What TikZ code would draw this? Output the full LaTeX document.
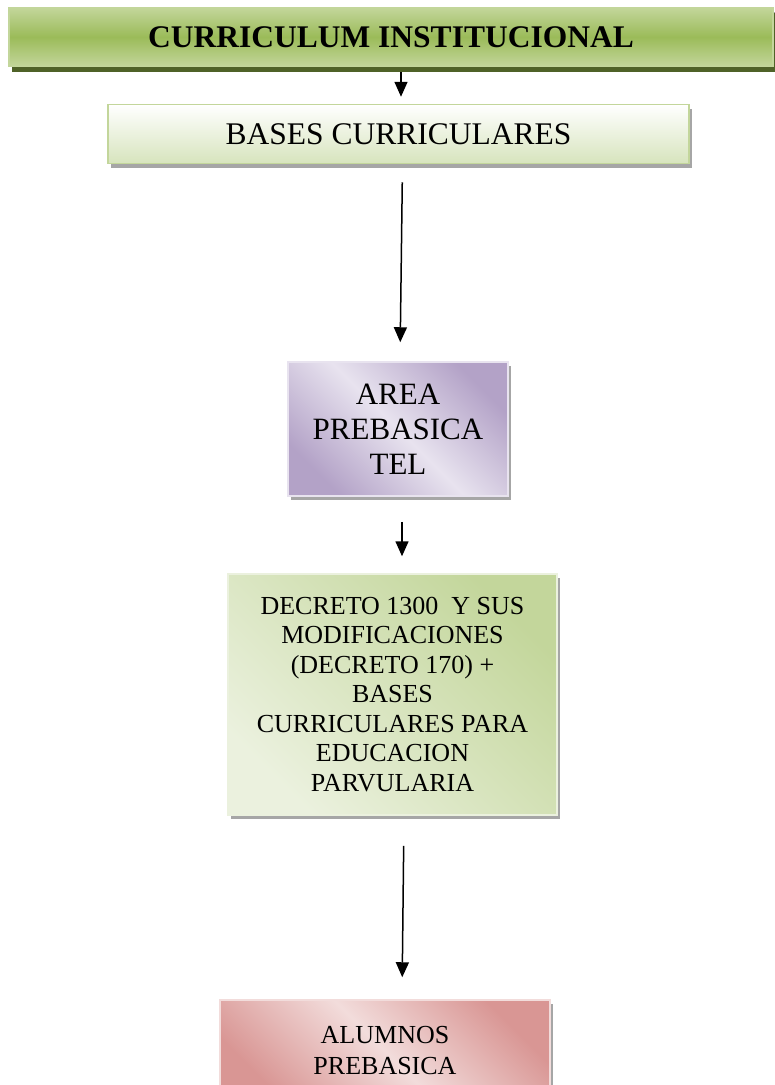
\documentclass[tikz,border=0pt]{standalone}
\usepackage{fontspec}
\setmainfont{Liberation Serif}
\usetikzlibrary{arrows.meta,shadows}
\definecolor{verdeos}{HTML}{4F6228}
\definecolor{verde}{HTML}{9BBB59}
\definecolor{verdecl}{HTML}{C3D69B}
\definecolor{verdepal}{HTML}{D7E4BD}
\definecolor{verdeblan}{HTML}{EBF1DE}
\definecolor{lila}{HTML}{B3A2C7}
\definecolor{lilacl}{HTML}{E8E3EF}
\definecolor{rosa}{HTML}{D99694}
\definecolor{rosacl}{HTML}{F2DCDB}
\begin{document}
\begin{tikzpicture}[x=1pt,y=-1pt,
    caja/.style={rectangle,inner sep=0pt,align=center,line width=1.5pt,
      drop shadow={shadow xshift=3pt,shadow yshift=-4pt,fill=black!35,opacity=1}},
    flecha/.style={line width=1.5pt,-{Triangle[length=15pt,width=13pt]}}]
  \useasboundingbox (0,0) rectangle (775,1085);
  \node[caja,minimum width=764pt,minimum height=59pt,draw=verdecl,
    top color=verdecl,bottom color=verdecl,middle color=verde,
    drop shadow={shadow xshift=3pt,shadow yshift=-5pt,fill=verdeos,opacity=1},
    font=\fontsize{31.5}{36}\selectfont\bfseries]
    (titulo) at (391,37) {CURRICULUM INSTITUCIONAL};
  \node[caja,minimum width=581pt,minimum height=59pt,draw=verdecl,
    top color=white,bottom color=verdepal,
    font=\fontsize{31.5}{36}\selectfont]
    (bases) at (398.5,134) {BASES CURRICULARES};
  \node[caja,minimum width=220pt,minimum height=134pt,draw=lilacl,
    top color=lila,bottom color=lila,middle color=lilacl,shading angle=-45,
    font=\fontsize{31}{35}\selectfont]
    (area) at (398,429) {AREA\\PREBASICA\\TEL};
  \node[caja,minimum width=329pt,minimum height=241pt,draw=verdeblan,
    top color=verdecl,bottom color=verdeblan,shading angle=-45,
    font=\fontsize{26}{29.5}\selectfont]
    (decreto) at (392.5,694.5) {DECRETO 1300 \ Y SUS\\MODIFICACIONES\\(DECRETO 170) +\\BASES\\CURRICULARES PARA\\EDUCACION\\PARVULARIA};
  \node[caja,minimum width=330pt,minimum height=102pt,draw=rosacl,
    top color=rosa,bottom color=rosa,middle color=rosacl,shading angle=-45,
    font=\fontsize{26}{31}\selectfont]
    (alumnos) at (385,1051) {ALUMNOS\\PREBASICA};
  \begin{scope}[flecha]
    \draw[shorten <=5pt,shorten >=7pt] ([xshift=10pt]titulo.south) to ([xshift=2.5pt]bases.north);
    \draw[shorten <=18pt,shorten >=19pt] ([xshift=4pt]bases.south) to ([xshift=2pt]area.north);
    \draw[shorten <=25pt,shorten >=17pt] ([xshift=4pt]area.south) to ([xshift=9.5pt]decreto.north);
    \draw[shorten <=30pt,shorten >=22pt] ([xshift=11.5pt]decreto.south) to ([xshift=17pt]alumnos.north);
  \end{scope}
\end{tikzpicture}
\end{document}
